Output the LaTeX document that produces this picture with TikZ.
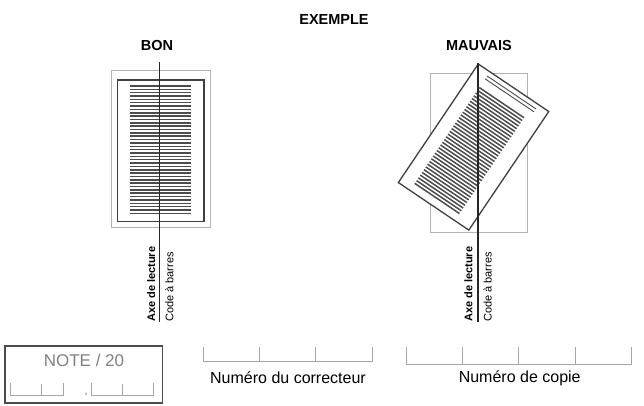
\documentclass[tikz,border=0pt]{standalone}
\usepackage{fontspec}
\setmainfont{Liberation Sans}
\begin{document}
\begin{tikzpicture}[x=1pt,y=-1pt,
  head/.style={font=\fontsize{14.5}{16}\selectfont\bfseries, inner sep=0pt, anchor=base},
  lbl/.style={font=\fontsize{16}{18}\selectfont, inner sep=0pt, anchor=base},
  vtxt/.style={font=\fontsize{11}{12}\selectfont, inner sep=0pt, rotate=90, anchor=base west},
  vbold/.style={vtxt, font=\fontsize{11}{12}\selectfont\bfseries},
  axisline/.style={line width=1.1pt, draw=black!85},
  sheet/.style={draw=black!75, line width=1.3pt},
  ghost/.style={draw=black!30, line width=0.7pt},
  txtline/.style={line width=1.5pt, draw=black!70},
  hdrline/.style={line width=0.9pt, draw=black!70},
  tickbox/.style={draw=black!35, line width=0.7pt},
  notebox/.style={draw=black!70, line width=1.2pt}
]
\useasboundingbox (0,0) rectangle (644,406);

% headings
\node[head] (ex) at (334,25) {EXEMPLE};
\node[head] (bon) at (157,50.7) {BON};
\node[head] (mauv) at (479,50.7) {MAUVAIS};

% ---------- BON ----------
\draw[ghost] (111,70) rectangle (210,227);
\draw[sheet] (117.5,80) rectangle (204,221.5);
\foreach \i in {0,...,38}{
  \draw[txtline] (130,{86+\i*3.35}) -- (191,{86+\i*3.35});
}
\coordinate (bt) at (159.5,62);
\coordinate (bb) at (159.5,322);
\draw[axisline] (bt) -- (bb);
\node[vbold] (bax) at (155,322) {Axe de lecture};
\node[vtxt] (bcb) at (173.3,322) {Code à barres};

% ---------- MAUVAIS ----------
\draw[ghost] (430,73) rectangle (527,232);
\begin{scope}[shift={(478.3,64)}, rotate=-34]
  \draw[sheet, fill=white] (0,0) rectangle (85,143);
  \draw[hdrline] (14,5) -- (73,5);
  \draw[hdrline] (14,8.5) -- (73,8.5);
  \foreach \i in {0,...,35}{
    \draw[txtline] (14,{19+\i*3.3}) -- (68,{19+\i*3.3});
  }
\end{scope}
\coordinate (mt) at (478,63);
\coordinate (mb) at (478,322);
\draw[axisline] (mt) -- (mb);
\node[vbold] (max) at (472.3,322) {Axe de lecture};
\node[vtxt] (mcb) at (491.7,322) {Code à barres};

% ---------- NOTE box ----------
\draw[notebox] (5,346) rectangle (162.5,403);
\node[lbl, font=\fontsize{17}{19}\selectfont, text=black!50] (note) at (84,366.7) {NOTE / 20};
\draw[tickbox] (10,383) -- (10,395) -- (63,395) -- (63,383);
\draw[tickbox] (41,395) -- (41,384);
\node[text=black!50, inner sep=0pt, anchor=base, font=\fontsize{12}{12}\selectfont] (comma) at (86,394) {,};
\draw[tickbox] (91,383) -- (91,395) -- (153,395) -- (153,383);
\draw[tickbox] (122,395) -- (122,384);

% ---------- Numéro du correcteur ----------
\draw[tickbox] (203,347) -- (203,361) -- (372,361) -- (372,347);
\draw[tickbox] (259,361) -- (259,347);
\draw[tickbox] (315,361) -- (315,347);
\node[lbl] (corr) at (288,383.3) {Numéro du correcteur};

% ---------- Numéro de copie ----------
\draw[tickbox] (406.7,347) -- (406.7,364) -- (631.7,364) -- (631.7,347);
\draw[tickbox] (462,364) -- (462,347);
\draw[tickbox] (518,364) -- (518,347);
\draw[tickbox] (575,364) -- (575,347);
\node[lbl] (copie) at (519.7,382.7) {Numéro de copie};
\end{tikzpicture}
\end{document}
